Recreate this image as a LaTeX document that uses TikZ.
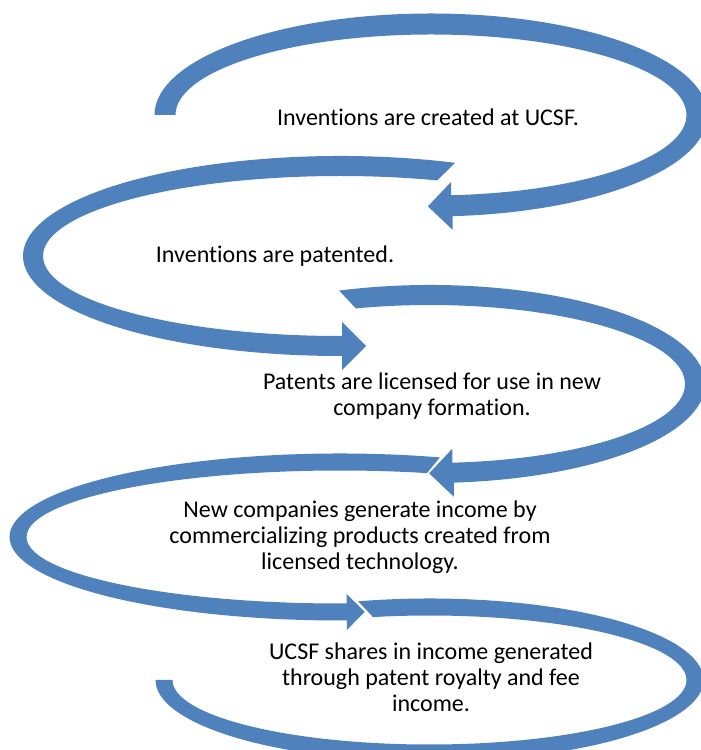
\documentclass[tikz,border=0pt]{standalone}
\usepackage{fontspec}
\setmainfont{Carlito}[Ligatures=NoCommon]
\definecolor{ringblue}{RGB}{79,129,189}
% #1 cx, #2 cy, #3 a, #4 b, #5 half thickness, #6 outer start angle, #7 inner start angle, #8 end angle, #9 head half width
\newcommand\RingArrow[9]{%
  \pgfmathsetmacro\RAao{#3+#5}\pgfmathsetmacro\RAbo{#4+#5}%
  \pgfmathsetmacro\RAai{#3-#5}\pgfmathsetmacro\RAbi{#4-#5}%
  \pgfmathsetmacro\RAsg{(#8>#6)?1:-1}%
  \pgfmathsetmacro\RAmx{#1+#3*cos(#8)}\pgfmathsetmacro\RAmy{#2+#4*sin(#8)}%
  \pgfmathsetmacro\RAtx{-#3*sin(#8)*\RAsg}\pgfmathsetmacro\RAty{#4*cos(#8)*\RAsg}%
  \pgfmathsetmacro\RAtl{veclen(\RAtx,\RAty)}%
  \pgfmathsetmacro\RAnx{#4*cos(#8)}\pgfmathsetmacro\RAny{#3*sin(#8)}%
  \pgfmathsetmacro\RAnl{veclen(\RAnx,\RAny)}%
  \pgfmathsetmacro\RAux{\RAtx/\RAtl}\pgfmathsetmacro\RAuy{\RAty/\RAtl}%
  \pgfmathsetmacro\RAvx{\RAnx/\RAnl}\pgfmathsetmacro\RAvy{\RAny/\RAnl}%
  \fill[ringblue]
    ({#1+\RAao*cos(#6)},{#2+\RAbo*sin(#6)})
    arc[start angle=#6, end angle=#8, x radius=\RAao pt, y radius=\RAbo pt]
    -- ({\RAmx+#9*\RAvx},{\RAmy+#9*\RAvy})
    -- ({\RAmx+#9*\RAux},{\RAmy+#9*\RAuy})
    -- ({\RAmx-#9*\RAvx},{\RAmy-#9*\RAvy})
    -- ({#1+\RAai*cos(#8)},{#2+\RAbi*sin(#8)})
    arc[start angle=#8, end angle=#7, x radius=\RAai pt, y radius=\RAbi pt]
    -- cycle;
}
\begin{document}
\begin{tikzpicture}[x=1pt,y=1pt,
  steptext/.style={inner sep=0pt, align=center, font=\fontsize{24}{26}\selectfont, text=black}]
\useasboundingbox (0,0) rectangle (701,750);
\clip (0,0) rectangle (701,750);
\RingArrow{431}{635}{266}{91}{10.5}{180}{180}{-85.5}{24}
\RingArrow{340}{494}{307}{90}{10}{68.7}{70.9}{270.4}{24}
\RingArrow{430}{366}{265}{89}{10}{109.3}{106.9}{-85}{24}
\RingArrow{340}{213}{322}{75}{8.5}{72.4}{73.9}{271.2}{18}
\RingArrow{429.5}{70}{265.5}{73}{8.5}{105.1}{102.7}{-180}{0}
\node[steptext] (t1) at (428,633) {Inventions are created at UCSF.};
\node[steptext] (t2) at (275,494) {Inventions are patented.};
\node[steptext] (t3) at (432,353.5) {Patents are licensed for use in new\\company formation.};
\node[steptext] (t4) at (360,213) {New companies generate income by\\commercializing products created from\\licensed technology.};
\node[steptext] (t5) at (431,73) {UCSF shares in income generated\\through patent royalty and fee\\income.};
\end{tikzpicture}
\end{document}
